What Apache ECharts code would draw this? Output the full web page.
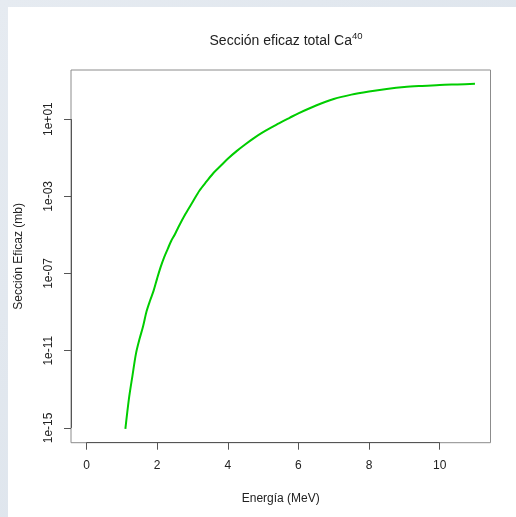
<!DOCTYPE html>
<html>
<head>
<meta charset="utf-8">
<script src="https://cdn.jsdelivr.net/npm/echarts@6/dist/echarts.min.js"></script>
<style>
  html, body { margin: 0; padding: 0; }
  body {
    width: 516px; height: 517px; overflow: hidden; position: relative;
    background: linear-gradient(135deg, #e6ebf1 0%, #d9e1ea 100%);
  }
  #panel { position: absolute; left: 8px; top: 7px; right: 0; bottom: 0; background: #fff; }
  #chart { position: absolute; left: 0; top: 0; width: 516px; height: 517px; }
</style>
</head>
<body>
<div id="panel"></div>
<div id="chart"></div>
<script>
// energía (MeV) y sección eficaz (mb)
const energy = [1.1, 1.2, 1.3, 1.4, 1.5, 1.6, 1.7, 1.8, 1.9, 2.0,
  2.1, 2.2, 2.3, 2.4, 2.5, 2.6, 2.8, 3.0, 3.2, 3.4,
  3.6, 3.8, 4.0, 4.25, 4.5, 4.75, 5.0, 5.25, 5.5, 5.75,
  6.0, 6.5, 7.0, 7.5, 8.0, 8.5, 9.0, 9.5, 10.0, 10.5, 11.0]
const sigma = [8.9e-16, 3.2e-14, 5.0e-13, 7.1e-12, 4.0e-11, 1.8e-10, 1.1e-9, 4.0e-9, 1.3e-8, 5.6e-8,
  2.2e-7, 7.1e-7, 1.9e-6, 5.0e-6, 1.05e-5, 2.5e-5, 1.2e-4, 4.9e-4, 2.0e-3, 5.9e-3,
  1.66e-2, 3.8e-2, 8.9e-2, 0.22, 0.50, 1.07, 2.1, 3.8, 6.8, 11.7,
  20, 51, 110, 186, 269, 363, 457, 525, 589, 631, 676]
const xTicks = [0, 2, 4, 6, 8, 10]
const yTickExp = [-15, -11, -7, -3, 1]

const fontFamily = '"Liberation Sans", Arial, sans-serif'
const textColor = '#222'

// R-style extents: 4% padding around the data range
const xMin = -0.44, xMax = 11.44
const logs = sigma.map(v => Math.log10(v))
const lo = Math.min(...logs), hi = Math.max(...logs)
const pad = (hi - lo) * 0.04
const yMin = lo - pad, yMax = hi + pad

function expLabel(v) {
  const e = Math.round(v)
  const s = String(Math.abs(e)).padStart(2, '0')
  return '1e' + (e < 0 ? '-' : '+') + s
}

const chart = echarts.init(document.getElementById('chart'), null, { renderer: 'canvas' })
chart.setOption({
  animation: false,
  backgroundColor: 'transparent',
  textStyle: { fontFamily: fontFamily },
  title: {
    text: '{t|Sección eficaz total Ca}{s|40}',
    left: 281,
    top: 23,
    textAlign: 'center',
    textStyle: {
      fontWeight: 'normal',
      rich: {
        t: { fontSize: 14, fontWeight: 'normal', color: textColor, fontFamily: fontFamily, lineHeight: 20, verticalAlign: 'bottom' },
        s: { fontSize: 9.5, fontWeight: 'normal', color: textColor, fontFamily: fontFamily, lineHeight: 20, verticalAlign: 'bottom', padding: [0, 0, 7, 0] }
      }
    }
  },
  grid: {
    left: 71,
    top: 70,
    right: 25.5,
    bottom: 74.3,
    show: true,
    borderColor: '#8c8c8c',
    borderWidth: 1,
    backgroundColor: 'transparent'
  },
  xAxis: {
    type: 'value',
    min: xMin,
    max: xMax,
    name: 'Energía (MeV)',
    nameLocation: 'middle',
    nameGap: 50,
    nameTextStyle: { fontSize: 12, color: textColor },
    axisLine: { show: false, onZero: false },
    axisTick: { show: true, length: 7, inside: false, customValues: xTicks, lineStyle: { color: '#555' } },
    axisLabel: { customValues: xTicks, fontSize: 12, color: textColor, margin: 17 },
    splitLine: { show: false }
  },
  yAxis: {
    type: 'value',
    min: yMin,
    max: yMax,
    name: 'Sección Eficaz (mb)',
    nameLocation: 'middle',
    nameGap: 46,
    nameRotate: 90,
    nameTextStyle: { fontSize: 12, color: textColor },
    axisLine: { show: false, onZero: false },
    axisTick: { show: true, length: 7, inside: false, customValues: yTickExp, lineStyle: { color: '#555' } },
    axisLabel: { customValues: yTickExp, rotate: 90, fontSize: 12, color: textColor, margin: 16, formatter: expLabel },
    splitLine: { show: false }
  },
  series: [{
    type: 'line',
    data: energy.map((e, i) => [e, logs[i]]),
    showSymbol: false,
    silent: true,
    smooth: 0.3,
    lineStyle: { color: '#00cd00', width: 2 },
    markLine: {
      silent: true,
      symbol: 'none',
      label: { show: false },
      lineStyle: { color: '#555', width: 1, type: 'solid' },
      data: [
        [{ coord: [xTicks[0], yMin] }, { coord: [xTicks[xTicks.length - 1], yMin] }],
        [{ coord: [xMin, yTickExp[0]] }, { coord: [xMin, yTickExp[yTickExp.length - 1]] }]
      ]
    }
  }]
})
</script>
</body>
</html>
